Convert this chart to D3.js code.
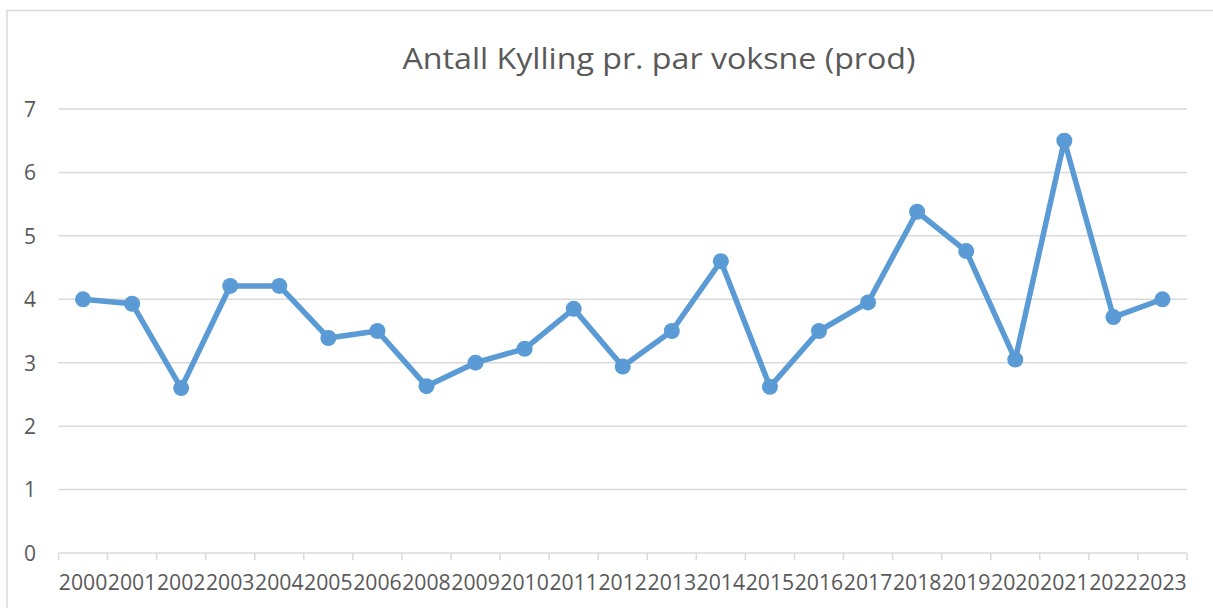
<!DOCTYPE html>
<html>
<head>
<meta charset="utf-8">
<script src="https://cdn.jsdelivr.net/npm/d3@7"></script>
<style>
  html, body { margin: 0; padding: 0; background: #fff; overflow: hidden; }
  svg { display: block; }
</style>
</head>
<body>
<svg id="chart"></svg>
<script>
(function () {
  'use strict';

  // years in the chart (2007 is not in the series)
  var years = ['2000', '2001', '2002', '2003', '2004', '2005', '2006', '2008',
               '2009', '2010', '2011', '2012', '2013', '2014', '2015', '2016',
               '2017', '2018', '2019', '2020', '2021', '2022', '2023'];

  // chicks per adult pair
  var chicks = [4.00, 3.93, 2.60, 4.21, 4.21, 3.39, 3.50, 2.63,
                3.00, 3.22, 3.85, 2.94, 3.50, 4.60, 2.62, 3.50,
                3.95, 5.38, 4.76, 3.05, 6.50, 3.72, 4.00];

  var yTicks = [0, 1, 2, 3, 4, 5, 6, 7];
  var title = 'Antall Kylling pr. par voksne (prod)';

  var W = 1213, H = 608;
  var font = '"Open Sans", "Noto Sans", sans-serif';

  var svg = d3.select('#chart')
      .attr('width', W)
      .attr('height', H);

  // chart frame (runs off the right and bottom of the window)
  svg.append('rect')
      .attr('x', 7)
      .attr('y', 10.5)
      .attr('width', W + 20)
      .attr('height', H + 20)
      .attr('fill', '#fff')
      .attr('stroke', '#d9d9d9')
      .attr('stroke-width', 1.5);

  var plot = { left: 58.5, right: 1187, top: 109, bottom: 553 };

  var x = d3.scaleBand()
      .domain(years)
      .range([plot.left, plot.right]);

  var y = d3.scaleLinear()
      .domain([0, 7])
      .range([plot.bottom, plot.top]);

  // title
  svg.append('text')
      .attr('x', 659)
      .attr('y', 69)
      .attr('text-anchor', 'middle')
      .attr('fill', '#595959')
      .style('font-family', font)
      .style('font-size', '30px')
      .attr('textLength', 513)
      .attr('lengthAdjust', 'spacingAndGlyphs')
      .text(title);

  // horizontal gridlines
  svg.append('g')
      .selectAll('line')
      .data(yTicks.slice(1))
      .enter()
      .append('line')
      .attr('x1', plot.left)
      .attr('x2', plot.right)
      .attr('y1', function (d) { return y(d); })
      .attr('y2', function (d) { return y(d); })
      .attr('stroke', '#d9d9d9')
      .attr('stroke-width', 1.5);

  // y axis labels
  var yAxis = svg.append('g')
      .attr('transform', 'translate(36,0)')
      .call(d3.axisLeft(y).tickValues(yTicks).tickFormat(d3.format('d'))
        .tickSize(0).tickPadding(0));
  yAxis.select('.domain').remove();
  yAxis.selectAll('text')
      .attr('fill', '#595959')
      .attr('dy', '0.35em')
      .style('font-family', font)
      .style('font-size', '21px');

  // x axis: line, category boundary ticks, labels
  var xAxisG = svg.append('g');
  xAxisG.append('line')
      .attr('x1', plot.left)
      .attr('x2', plot.right)
      .attr('y1', plot.bottom)
      .attr('y2', plot.bottom)
      .attr('stroke', '#d9d9d9')
      .attr('stroke-width', 1.5);

  var bounds = years.map(function (d) { return x(d); }).concat([plot.right]);
  xAxisG.selectAll('line.tick')
      .data(bounds)
      .enter()
      .append('line')
      .attr('class', 'tick')
      .attr('x1', function (d) { return d; })
      .attr('x2', function (d) { return d; })
      .attr('y1', plot.bottom)
      .attr('y2', plot.bottom + 7)
      .attr('stroke', '#d9d9d9')
      .attr('stroke-width', 1.5);

  xAxisG.selectAll('text')
      .data(years)
      .enter()
      .append('text')
      .attr('x', function (d) { return x(d) + x.bandwidth() / 2; })
      .attr('y', 590)
      .attr('text-anchor', 'middle')
      .attr('fill', '#595959')
      .style('font-family', font)
      .style('font-size', '21px')
      .attr('textLength', 48.5)
      .attr('lengthAdjust', 'spacingAndGlyphs')
      .text(function (d) { return d; });

  // the series
  var pts = years.map(function (d, i) {
    return { year: d, value: chicks[i] };
  });

  var line = d3.line()
      .x(function (d) { return x(d.year) + x.bandwidth() / 2; })
      .y(function (d) { return y(d.value); });

  svg.append('path')
      .datum(pts)
      .attr('d', line)
      .attr('fill', 'none')
      .attr('stroke', '#5b9bd5')
      .attr('stroke-width', 5.5)
      .attr('stroke-linejoin', 'round')
      .attr('stroke-linecap', 'round');

  svg.append('g')
      .selectAll('circle')
      .data(pts)
      .enter()
      .append('circle')
      .attr('cx', function (d) { return x(d.year) + x.bandwidth() / 2; })
      .attr('cy', function (d) { return y(d.value); })
      .attr('r', 8)
      .attr('fill', '#5b9bd5');
}());
</script>
</body>
</html>
